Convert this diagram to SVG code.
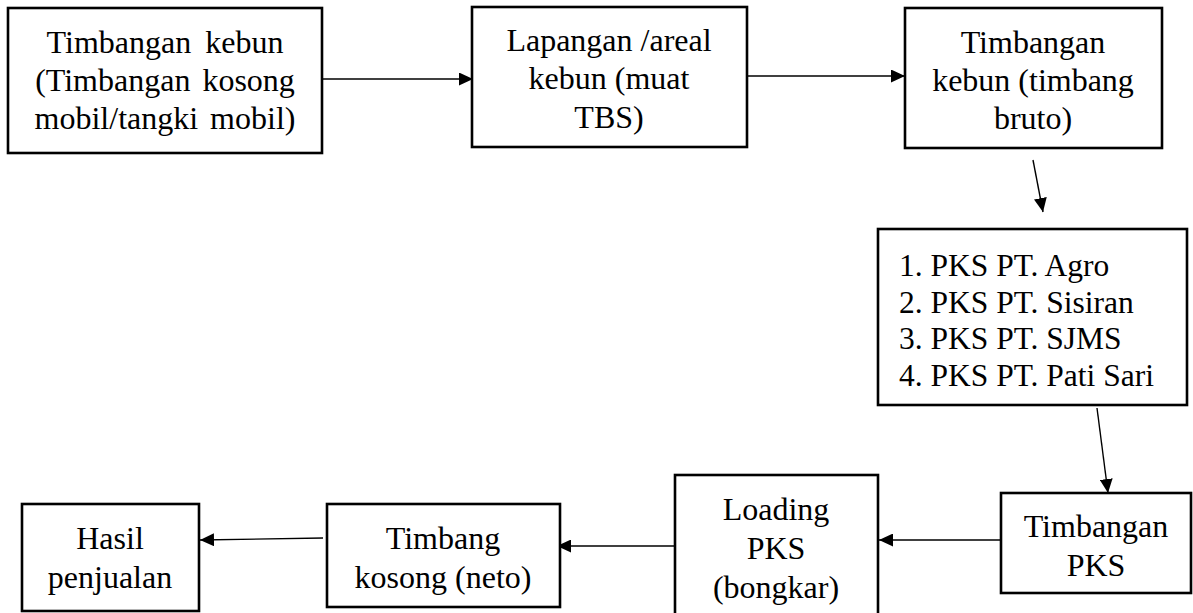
<svg xmlns="http://www.w3.org/2000/svg" width="1193" height="613" viewBox="0 0 1193 613">
<style>
.box{fill:#fff;stroke:#000;stroke-width:2.6}
.t{font-family:"Liberation Serif","Times New Roman",serif;font-size:32px;fill:#000;text-anchor:middle}
.l{font-family:"Liberation Serif","Times New Roman",serif;font-size:31.5px;fill:#000}
.c{stroke:#000;stroke-width:1.4;fill:none;marker-end:url(#ah)}
</style>
<defs>
<marker id="ah" markerUnits="userSpaceOnUse" markerWidth="15" markerHeight="13" refX="14" refY="6.5" orient="auto">
<path d="M0,0 L14,6.5 L0,13 z" fill="#000"/>
</marker>
</defs>
<rect width="1193" height="613" fill="#fff"/>
<g id="connectors">
<line class="c" x1="322" y1="79" x2="473" y2="79"/>
<line class="c" x1="747" y1="76" x2="905" y2="76"/>
<line class="c" x1="1033" y1="160" x2="1043" y2="212"/>
<line class="c" x1="1097" y1="408" x2="1108" y2="493"/>
<line class="c" x1="1001" y1="540" x2="879" y2="540"/>
<line class="c" x1="675" y1="546" x2="557" y2="546"/>
<line class="c" x1="323" y1="538" x2="200" y2="540"/>
</g>
<g id="n1">
<rect class="box" x="8" y="8" width="314" height="145"/>
<text class="t" x="165" y="53" word-spacing="6">Timbangan kebun</text>
<text class="t" x="165" y="91" word-spacing="4">(Timbangan kosong</text>
<text class="t" x="165" y="129" word-spacing="4">mobil/tangki mobil)</text>
</g>
<g id="n2">
<rect class="box" x="472" y="7" width="275" height="140"/>
<text class="t" x="609" y="51">Lapangan /areal</text>
<text class="t" x="609" y="89">kebun (muat</text>
<text class="t" x="609" y="128">TBS)</text>
</g>
<g id="n3">
<rect class="box" x="905" y="8" width="257" height="140"/>
<text class="t" x="1033" y="53">Timbangan</text>
<text class="t" x="1033" y="91">kebun (timbang</text>
<text class="t" x="1033" y="129">bruto)</text>
</g>
<g id="n4">
<rect class="box" x="878" y="229" width="309" height="176"/>
<text class="l" x="899" y="276">1. PKS PT. Agro</text>
<text class="l" x="899" y="313">2. PKS PT. Sisiran</text>
<text class="l" x="899" y="349">3. PKS PT. SJMS</text>
<text class="l" x="899" y="386">4. PKS PT. Pati Sari</text>
</g>
<g id="n5">
<rect class="box" x="1001" y="493" width="190" height="100"/>
<text class="t" x="1096" y="537">Timbangan</text>
<text class="t" x="1096" y="576">PKS</text>
</g>
<g id="n6">
<rect class="box" x="675" y="475" width="203" height="150"/>
<text class="t" x="776" y="520">Loading</text>
<text class="t" x="776" y="559">PKS</text>
<text class="t" x="776" y="598">(bongkar)</text>
</g>
<g id="n7">
<rect class="box" x="327" y="504" width="233" height="103"/>
<text class="t" x="443" y="549">Timbang</text>
<text class="t" x="443" y="588">kosong (neto)</text>
</g>
<g id="n8">
<rect class="box" x="22" y="504" width="177" height="107"/>
<text class="t" x="110" y="549">Hasil</text>
<text class="t" x="110" y="588">penjualan</text>
</g>
</svg>
